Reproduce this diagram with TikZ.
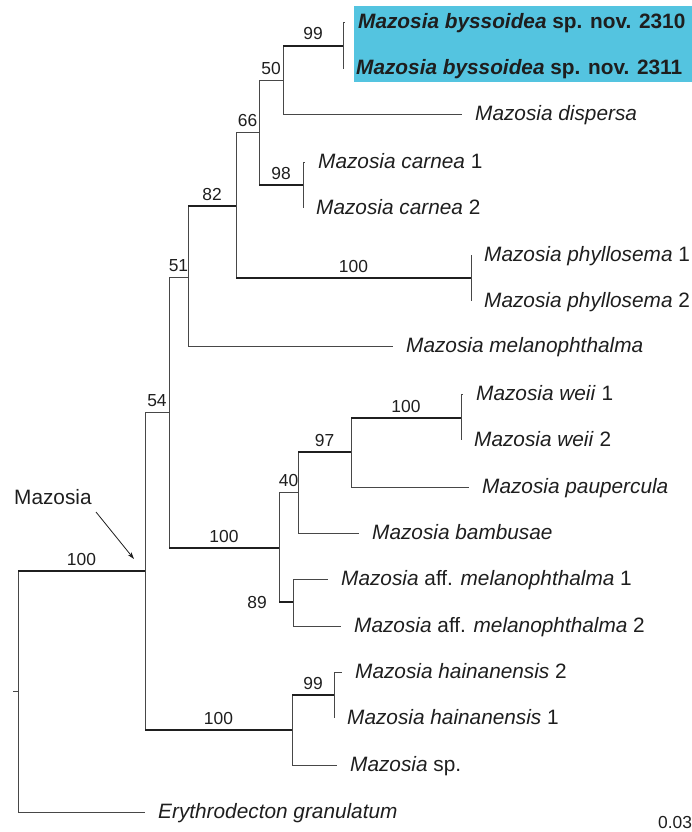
\documentclass[tikz,border=0pt]{standalone}
\usepackage{fontspec}
\setmainfont{Liberation Sans}
\usetikzlibrary{calc,arrows.meta}
\definecolor{hl}{RGB}{84,196,224}
\definecolor{ink}{RGB}{30,30,30}
\newcommand\taxfont{\fontsize{20.8}{25}\selectfont}
\newcommand\numfont{\fontsize{17.4}{20}\selectfont}
\begin{document}
\begin{tikzpicture}[x=1pt,y=-1pt,
  br/.style={line width=1pt, draw=black!72},
  thk/.style={line width=2.8pt, draw=black!88},
  tip/.style={anchor=base west, inner sep=0pt, xshift=13pt, yshift=-6pt, font=\taxfont, text=ink},
  bs/.style={anchor=base, inner sep=0pt, yshift=6pt, font=\numfont, text=ink}]
\useasboundingbox (0,0) rectangle (692,832);
\fill[hl] (354,6) rectangle (692,82);
% internal nodes and tips
\coordinate (stub) at (13,691);
\coordinate (R) at (18,691);
\coordinate (M) at (145,571);
\coordinate (Ery) at (145,812);
\coordinate (N54) at (169,412);
\coordinate (H) at (292,730);
\coordinate (N51) at (188,277);
\coordinate (W) at (279,548);
\coordinate (N82) at (236,206);
\coordinate (Mel) at (393,346);
\coordinate (N66) at (259,133);
\coordinate (P) at (471,278);
\coordinate (N50) at (283,81);
\coordinate (C) at (303,185);
\coordinate (B) at (343,46);
\coordinate (Dis) at (462,115);
\coordinate (B1) at (345,23);
\coordinate (B2) at (343,69);
\coordinate (C1) at (305,162);
\coordinate (C2) at (303,208);
\coordinate (P1) at (471,255);
\coordinate (P2) at (471,301);
\coordinate (N40) at (298,492);
\coordinate (N89) at (293,602);
\coordinate (N97) at (351,452);
\coordinate (Bam) at (359,533);
\coordinate (Wei) at (461,418);
\coordinate (Pau) at (469,487);
\coordinate (W1) at (463,394);
\coordinate (W2) at (461,440);
\coordinate (A1) at (328,579);
\coordinate (A2) at (341,626);
\coordinate (H99) at (334,695);
\coordinate (Sp) at (337,765);
\coordinate (H2) at (342,672);
\coordinate (H1) at (334,718);
% root
\draw[br] (stub) -- (R);
\draw[br] (R |- M) -- (R |- Ery);
\draw[thk] (R |- M) -- (M);
\draw[br] (R |- Ery) -- (Ery);
% Mazosia crown
\draw[br] (M |- N54) -- (M |- H);
\draw[br] (M |- N54) -- (N54);
\draw[thk] (M |- H) -- (H);
% node 54
\draw[br] (N54 |- N51) -- (N54 |- W);
\draw[br] (N54 |- N51) -- (N51);
\draw[thk] (N54 |- W) -- (W);
% node 51
\draw[br] (N51 |- N82) -- (N51 |- Mel);
\draw[thk] (N51 |- N82) -- (N82);
\draw[br] (N51 |- Mel) -- (Mel);
% node 82
\draw[br] (N82 |- N66) -- (N82 |- P);
\draw[br] (N82 |- N66) -- (N66);
\draw[thk] (N82 |- P) -- (P);
% node 66
\draw[br] (N66 |- N50) -- (N66 |- C);
\draw[br] (N66 |- N50) -- (N50);
\draw[thk] (N66 |- C) -- (C);
% node 50
\draw[br] (N50 |- B) -- (N50 |- Dis);
\draw[thk] (N50 |- B) -- (B);
\draw[br] (N50 |- Dis) -- (Dis);
% byssoidea
\draw[br] (B |- B1) -- (B |- B2);
\draw[br] (B |- B1) -- (B1);
% carnea
\draw[br] (C |- C1) -- (C |- C2);
\draw[br] (C |- C1) -- (C1);
% phyllosema
\draw[br] (P |- P1) -- (P |- P2);
% weii group
\draw[br] (W |- N40) -- (W |- N89);
\draw[br] (W |- N40) -- (N40);
\draw[thk] (W |- N89) -- (N89);
\draw[br] (N40 |- N97) -- (N40 |- Bam);
\draw[thk] (N40 |- N97) -- (N97);
\draw[br] (N40 |- Bam) -- (Bam);
\draw[br] (N97 |- Wei) -- (N97 |- Pau);
\draw[thk] (N97 |- Wei) -- (Wei);
\draw[br] (N97 |- Pau) -- (Pau);
\draw[br] (Wei |- W1) -- (Wei |- W2);
\draw[br] (Wei |- W1) -- (W1);
\draw[br] (N89 |- A1) -- (N89 |- A2);
\draw[br] (N89 |- A1) -- (A1);
\draw[br] (N89 |- A2) -- (A2);
% hainanensis group
\draw[br] (H |- H99) -- (H |- Sp);
\draw[thk] (H |- H99) -- (H99);
\draw[br] (H |- Sp) -- (Sp);
\draw[br] (H99 |- H2) -- (H99 |- H1);
\draw[br] (H99 |- H2) -- (H2);
% tip labels
\node[tip] (tB1) at (B1) {\textbf{\textit{Mazosia byssoidea} sp. nov. 2310}};
\node[tip] (tB2) at (B2) {\textbf{\textit{Mazosia byssoidea} sp. nov. 2311}};
\node[tip] (tDis) at (Dis) {\textit{Mazosia dispersa}};
\node[tip] (tC1) at (C1) {\textit{Mazosia carnea} 1};
\node[tip] (tC2) at (C2) {\textit{Mazosia carnea} 2};
\node[tip] (tP1) at (P1) {\textit{Mazosia phyllosema} 1};
\node[tip] (tP2) at (P2) {\textit{Mazosia phyllosema} 2};
\node[tip] (tMel) at (Mel) {\textit{Mazosia melanophthalma}};
\node[tip] (tW1) at (W1) {\textit{Mazosia weii} 1};
\node[tip] (tW2) at (W2) {\textit{Mazosia weii} 2};
\node[tip] (tPau) at (Pau) {\textit{Mazosia paupercula}};
\node[tip] (tBam) at (Bam) {\textit{Mazosia bambusae}};
\node[tip] (tA1) at (A1) {\textit{Mazosia} aff. \textit{melanophthalma} 1};
\node[tip] (tA2) at (A2) {\textit{Mazosia} aff. \textit{melanophthalma} 2};
\node[tip] (tH2) at (H2) {\textit{Mazosia hainanensis} 2};
\node[tip] (tH1) at (H1) {\textit{Mazosia hainanensis} 1};
\node[tip] (tSp) at (Sp) {\textit{Mazosia} sp.};
\node[tip] (tEry) at (Ery) {\textit{Erythrodecton granulatum}};
% support values
\path ($(R |- M)!0.5!(M)$) node[bs] (l100a) {100};
\path ($(M |- N54)!0.5!(N54)$) node[bs] (l54) {54};
\path ($(N54 |- N51)!0.5!(N51)$) node[bs] (l51) {51};
\path ($(N51 |- N82)!0.5!(N82)$) node[bs] (l82) {82};
\path ($(N82 |- N66)!0.5!(N66)$) node[bs] (l66) {66};
\path ($(N66 |- N50)!0.5!(N50)$) node[bs] (l50) {50};
\path ($(N50 |- B)!0.5!(B)$) node[bs] (l99a) {99};
\path ($(N66 |- C)!0.5!(C)$) node[bs] (l98) {98};
\path ($(N82 |- P)!0.5!(P)$) node[bs] (l100b) {100};
\path ($(N54 |- W)!0.5!(W)$) node[bs] (l100c) {100};
\path ($(W |- N40)!0.5!(N40)$) node[bs] (l40) {40};
\path ($(N40 |- N97)!0.5!(N97)$) node[bs] (l97) {97};
\path ($(N97 |- Wei)!0.5!(Wei)$) node[bs] (l100d) {100};
\node[bs, anchor=base east, xshift=-12pt, yshift=-12pt] (l89) at (W |- N89) {89};
\path ($(H |- H99)!0.5!(H99)$) node[bs] (l99b) {99};
\path ($(M |- H)!0.5!(H)$) node[bs] (l100e) {100};
% clade label and arrow
\node[anchor=west, inner sep=0pt, font=\taxfont, text=ink] (mz) at (14,497) {Mazosia};
\coordinate (arrS) at (96,512);
\coordinate (arrE) at (134,559);
\draw[line width=0.8pt, draw=ink, -{Stealth[length=7pt,width=4.5pt]}] (arrS) -- (arrE);
% scale
\node[font=\numfont, text=ink, inner sep=0pt] (scale) at (675,822) {0.03};
\end{tikzpicture}
\end{document}
